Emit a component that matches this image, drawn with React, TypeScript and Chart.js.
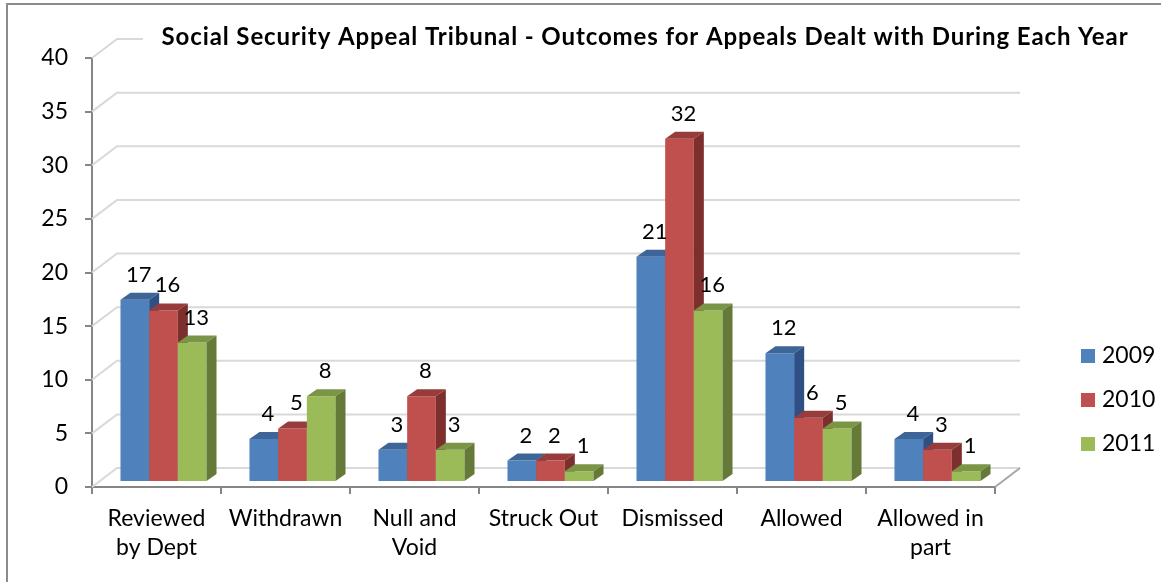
import React, { useEffect, useRef } from "react";
import { Chart, registerables } from "chart.js";

Chart.register(...registerables);

// ---------- data ----------
const categories: string[][] = [
  ["Reviewed", "by Dept"],
  ["Withdrawn"],
  ["Null and", "Void"],
  ["Struck Out"],
  ["Dismissed"],
  ["Allowed"],
  ["Allowed in", "part"],
];
const seriesNames = ["2009", "2010", "2011"];
const values2009 = [17, 4, 3, 2, 21, 12, 4];
const values2010 = [16, 5, 8, 2, 32, 6, 3];
const values2011 = [13, 8, 3, 1, 16, 5, 1];
const yMin = 0;
const yMax = 40;
const yStep = 5;
const titleText =
  "Social Security Appeal Tribunal - Outcomes for Appeals Dealt with During Each Year";

// ---------- styles ----------
const FONT = "Lato, 'Open Sans', 'DejaVu Sans', sans-serif";
const frontColors = ["#4F81BD", "#C0504D", "#9BBB59"];
const topColors = ["#3D6597", "#973C3A", "#7A9546"];
const sideColors = ["#2F5084", "#7D2F2E", "#657A39"];

const WALL_DX = 25;
const WALL_DY = -19;
const BAR_SHIFT_X = 7;
const BAR_SHIFT_Y = -5;
const BAR_DX = 10;
const BAR_DY = -7;

const threeD = {
  id: "threeD",
  beforeDraw(chart: any) {
    const ctx = chart.ctx;
    ctx.save();
    ctx.fillStyle = "#ffffff";
    ctx.fillRect(0, 0, chart.width, chart.height);
    ctx.strokeStyle = "#8c8c8c";
    ctx.lineWidth = 2;
    ctx.strokeRect(7, 4, chart.width + 20, chart.height + 20);
    ctx.restore();
  },
  beforeDatasetsDraw(chart: any) {
    const ctx = chart.ctx;
    const a = chart.chartArea;
    const y = chart.scales.y;
    ctx.save();
    ctx.lineWidth = 2;
    ctx.strokeStyle = "#d9d9d9";
    y.ticks.forEach((t: any) => {
      const py = y.getPixelForValue(t.value);
      ctx.beginPath();
      ctx.moveTo(a.left, py);
      ctx.lineTo(a.left + WALL_DX, py + WALL_DY);
      ctx.lineTo(a.right + WALL_DX, py + WALL_DY);
      ctx.stroke();
    });
    ctx.strokeStyle = "#a6a6a6";
    ctx.beginPath();
    ctx.moveTo(a.right, a.bottom);
    ctx.lineTo(a.right + WALL_DX, a.bottom + WALL_DY);
    ctx.stroke();
    // title (with white backing over the top grid line)
    ctx.fillStyle = "#ffffff";
    ctx.fillRect(143, 18, chart.width - 143, 34);
    ctx.fillStyle = "#000000";
    ctx.font = `bold 24px ${FONT}`;
    try {
      (ctx as any).letterSpacing = "0.9px";
    } catch (e) {}
    ctx.textAlign = "center";
    ctx.textBaseline = "alphabetic";
    ctx.fillText(titleText, 645, 45);
    try {
      (ctx as any).letterSpacing = "0px";
    } catch (e) {}
    ctx.restore();
  },
  // the plugin draws the bars itself, in series order, so that the 3D faces overlap correctly
  beforeDatasetDraw() {
    return false;
  },
  afterDatasetsDraw(chart: any) {
    const ctx = chart.ctx;
    ctx.save();
    ctx.translate(BAR_SHIFT_X, BAR_SHIFT_Y);
    chart.data.datasets.forEach((ds: any, di: number) => {
      const meta = chart.getDatasetMeta(di);
      meta.data.forEach((el: any) => {
        el.draw(ctx, chart.chartArea);
        const { x, y, base, width } = el.getProps(["x", "y", "base", "width"], true);
        const L = x - width / 2;
        const R = x + width / 2;
        ctx.fillStyle = topColors[di];
        ctx.beginPath();
        ctx.moveTo(L, y);
        ctx.lineTo(R, y);
        ctx.lineTo(R + BAR_DX, y + BAR_DY);
        ctx.lineTo(L + BAR_DX, y + BAR_DY);
        ctx.closePath();
        ctx.fill();
        ctx.fillStyle = sideColors[di];
        ctx.beginPath();
        ctx.moveTo(R, y);
        ctx.lineTo(R + BAR_DX, y + BAR_DY);
        ctx.lineTo(R + BAR_DX, base + BAR_DY);
        ctx.lineTo(R, base);
        ctx.closePath();
        ctx.fill();
      });
    });
    ctx.restore();

    ctx.save();
    ctx.fillStyle = "#000000";
    ctx.font = `22px ${FONT}`;
    ctx.textAlign = "center";
    ctx.textBaseline = "alphabetic";
    chart.data.datasets.forEach((ds: any, di: number) => {
      const meta = chart.getDatasetMeta(di);
      meta.data.forEach((el: any, i: number) => {
        const { x, y } = el.getProps(["x", "y"], true);
        ctx.fillText(String(ds.data[i]), x + BAR_SHIFT_X + 4, y + BAR_SHIFT_Y - 18);
      });
    });
    // legend
    ctx.font = `23px ${FONT}`;
    ctx.textAlign = "left";
    chart.data.datasets.forEach((ds: any, di: number) => {
      const base = 363 + di * 44;
      ctx.fillStyle = frontColors[di];
      ctx.fillRect(1081, base - 14, 14, 14);
      ctx.fillStyle = "#000000";
      ctx.fillText(ds.label, 1102, base);
    });
    ctx.restore();
  },
};

export default function App() {
  const ref = useRef<HTMLCanvasElement>(null);
  useEffect(() => {
    if (!ref.current) return;
    const seriesValues = [values2009, values2010, values2011];
    const chart = new Chart(ref.current, {
      type: "bar",
      data: {
        labels: categories,
        datasets: seriesNames.map((name, i) => ({
          label: name,
          data: seriesValues[i],
          backgroundColor: frontColors[i],
          borderWidth: 0,
          clip: false,
          categoryPercentage: 0.667,
          barPercentage: 1.0,
        })),
      },
      options: {
        responsive: false,
        animation: false,
        events: [],
        layout: { padding: { left: 0, top: 58, right: 166, bottom: 0 } },
        plugins: {
          legend: { display: false },
          title: { display: false },
          tooltip: { enabled: false },
        },
        scales: {
          x: {
            afterFit: (s: any) => {
              s.height = 95;
            },
            grid: {
              display: true,
              drawOnChartArea: false,
              drawTicks: true,
              tickLength: 7,
              color: "#868686",
              lineWidth: 2,
              offset: true,
            },
            border: { display: true, color: "#868686", width: 2 },
            ticks: {
              color: "#000000",
              font: { family: FONT, size: 23, lineHeight: 1.25 },
              padding: 10,
              maxRotation: 0,
              autoSkip: false,
            },
          },
          y: {
            min: yMin,
            max: yMax,
            afterFit: (s: any) => {
              s.width = 92;
            },
            grid: {
              display: true,
              drawOnChartArea: false,
              drawTicks: true,
              tickLength: 7,
              color: "#868686",
              lineWidth: 2,
            },
            border: { display: true, color: "#868686", width: 2 },
            ticks: {
              stepSize: yStep,
              color: "#000000",
              font: { family: FONT, size: 23 },
              padding: 17,
            },
          },
        },
      },
      plugins: [threeD],
    } as any);
    return () => chart.destroy();
  }, []);
  return (
    <div style={{ position: "absolute", left: 0, top: 0, width: 1161, height: 582 }}>
      <canvas ref={ref} width={1161} height={582} style={{ display: "block" }} />
    </div>
  );
}
